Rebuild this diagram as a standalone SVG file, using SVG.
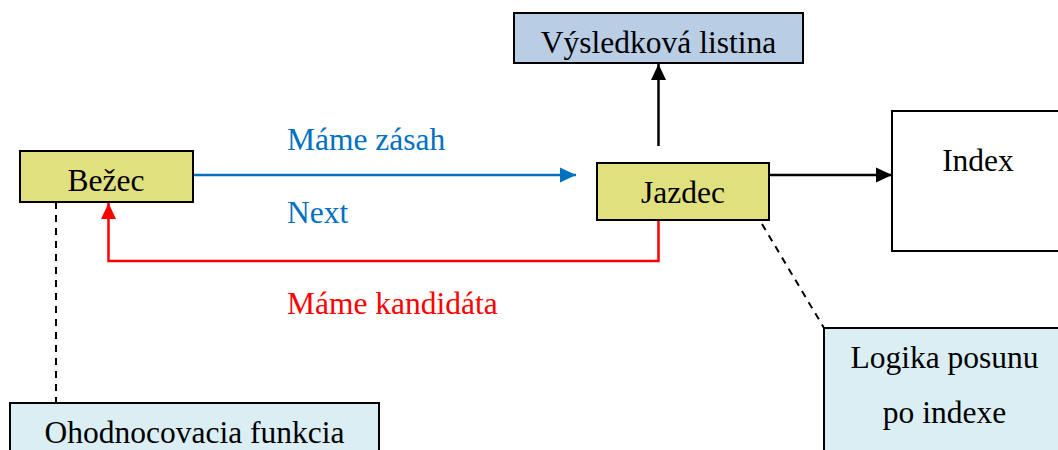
<svg xmlns="http://www.w3.org/2000/svg" width="1058" height="450" viewBox="0 0 1058 450">
<defs>
<style>
text{font-family:"Liberation Serif","Times New Roman",serif;font-size:31.5px;fill:#000}
.c{text-anchor:middle}
.box{stroke:#000;stroke-width:2}
.yel{fill:#E0E07E}
.blu{fill:#B9CDE5}
.lt{fill:#DBEEF4}
.wh{fill:#fff}
.line{fill:none;stroke-width:2.5}
.dash{fill:none;stroke:#000;stroke-width:2;stroke-dasharray:7,6}
</style>
<marker id="ab" markerUnits="userSpaceOnUse" markerWidth="16" markerHeight="16" refX="16" refY="8" orient="auto"><path d="M0,0.5 L16,8 L0,15.5 Z" fill="#0070C0"/></marker>
<marker id="ak" markerUnits="userSpaceOnUse" markerWidth="16" markerHeight="16" refX="16" refY="8" orient="auto"><path d="M0,0.5 L16,8 L0,15.5 Z" fill="#000"/></marker>
<marker id="ar" markerUnits="userSpaceOnUse" markerWidth="16" markerHeight="16" refX="16" refY="8" orient="auto"><path d="M0,0.5 L16,8 L0,15.5 Z" fill="#FF0000"/></marker>
</defs>
<g id="connectors">
<line class="line" x1="193" y1="175" x2="576" y2="175" stroke="#0070C0" marker-end="url(#ab)"/>
<line class="line" x1="769" y1="175" x2="892" y2="175" stroke="#000" marker-end="url(#ak)"/>
<line class="line" x1="658.5" y1="146" x2="658.5" y2="64" stroke="#000" marker-end="url(#ak)"/>
<polyline class="line" points="658.5,220 658.5,261 108.5,261 108.5,203" stroke="#FF0000" marker-end="url(#ar)"/>
<line class="dash" x1="56" y1="202" x2="56" y2="403"/>
<line class="dash" x1="762" y1="224" x2="824" y2="328"/>
<text x="287" y="150" style="fill:#0070C0">Máme zásah</text>
<text x="287" y="223" style="fill:#0070C0">Next</text>
<text x="287" y="314" style="fill:#FF0000">Máme kandidáta</text>
</g>
<g id="bezec">
<rect class="box yel" x="20" y="151" width="173" height="51"/>
<text class="c" x="106" y="191">Bežec</text>
</g>
<g id="jazdec">
<rect class="box yel" x="597" y="163" width="172" height="57"/>
<text class="c" x="683" y="203">Jazdec</text>
</g>
<g id="vysledkova">
<rect class="box blu" x="514" y="13" width="289" height="50"/>
<text class="c" x="658.5" y="53">Výsledková listina</text>
</g>
<g id="index">
<rect class="box wh" x="892" y="111" width="180" height="140"/>
<text class="c" x="978" y="171">Index</text>
</g>
<g id="logika">
<rect class="box lt" x="824" y="328" width="250" height="140"/>
<text class="c" x="944.5" y="368">Logika posunu</text>
<text class="c" x="944.5" y="423">po indexe</text>
</g>
<g id="ohodnocovacia">
<rect class="box lt" x="10" y="403" width="369" height="70"/>
<text class="c" x="194.5" y="443">Ohodnocovacia funkcia</text>
</g>
</svg>
